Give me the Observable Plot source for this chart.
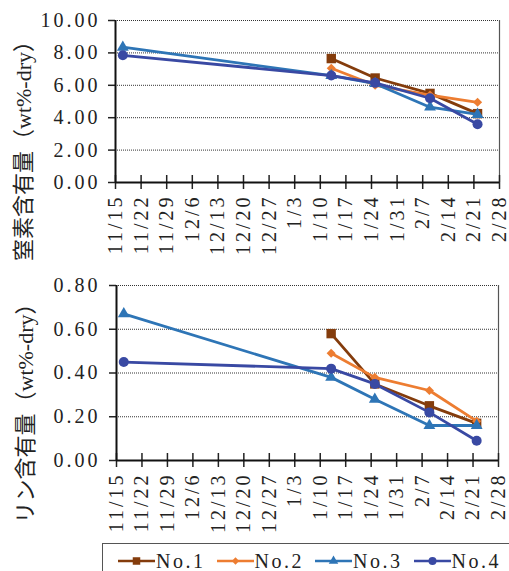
<!DOCTYPE html>
<html>
<head>
<meta charset="utf-8">
<script src="https://cdn.jsdelivr.net/npm/d3@7"></script>
<script src="https://cdn.jsdelivr.net/npm/@observablehq/plot@0.6"></script>
<style>
  body { margin: 0; background: #fff; }
  #wrap { position: relative; width: 509px; height: 571px; overflow: hidden; background: #fff;
          font-family: "Liberation Serif", "Noto Sans CJK JP", serif; color: #222; }
  #top { position: absolute; left: 0; top: 0; }
  #bottom { position: absolute; left: 0; top: 270px; }
  #legend { position: absolute; left: 102px; top: 543px; width: 440px; height: 40px;
            border: 1px solid #555; box-sizing: border-box; background: #fff; }
  #legend .item { position: absolute; top: 6px; display: flex; align-items: center; height: 22px;
                  font-size: 20px; letter-spacing: 2.5px; }
  svg text.spaced { letter-spacing: 3px; }
</style>
</head>
<body>
<div id="wrap">
  <div id="top"></div>
  <div id="bottom"></div>
  <div id="legend"></div>
</div>
<script>
// Sample series
const series = ["No.1", "No.2", "No.3", "No.4"];
const seriesColors = ["#843C0C", "#ED7D31", "#2E75B6", "#3949A3"];
const seriesSymbols = ["square", "diamond2", "triangle", "circle"];
const symbolRadius = [5.3, 4.1, 4.4, 5];

// Sampling dates
const sampleDates = ["2018-11-17", "2019-01-13", "2019-01-25", "2019-02-09", "2019-02-22"];

// Nitrogen content (wt%-dry), one list per sample; null = not sampled
const nitrogenNo1 = [null, 7.65, 6.45, 5.50, 4.25];
const nitrogenNo2 = [null, 7.05, 6.00, 5.40, 4.95];
const nitrogenNo3 = [8.35, 6.60, 6.10, 4.65, 4.20];
const nitrogenNo4 = [7.85, 6.60, 6.15, 5.20, 3.60];

// Phosphorus content (wt%-dry)
const phosphorusNo1 = [null, 0.58, 0.35, 0.25, 0.17];
const phosphorusNo2 = [null, 0.49, 0.38, 0.32, 0.18];
const phosphorusNo3 = [0.67, 0.38, 0.28, 0.16, 0.16];
const phosphorusNo4 = [0.45, 0.42, 0.35, 0.22, 0.09];

// Axis ticks
const weekTickLabels = ["11/15", "11/22", "11/29", "12/6", "12/13", "12/20", "12/27",
  "1/3", "1/10", "1/17", "1/24", "1/31", "2/7", "2/14", "2/21", "2/28"];
const nitrogenTicks = [0, 2, 4, 6, 8, 10];
const phosphorusTicks = [0, 0.2, 0.4, 0.6, 0.8];

const nitrogenTitle = "窒素含有量（wt%-dry）";
const phosphorusTitle = "リン含有量（wt%-dry）";

const weekTicks = weekTickLabels.map(s => {
  const [m, d] = s.split("/").map(Number);
  return new Date(Date.UTC(m >= 11 ? 2018 : 2019, m - 1, d));
});
const fmtMD = d => `${d.getUTCMonth() + 1}/${d.getUTCDate()}`;

function toRows(lists) {
  const rows = [];
  lists.forEach((vals, i) => vals.forEach((v, j) => {
    if (v != null) rows.push({series: series[i], date: new Date(sampleDates[j] + "T00:00:00Z"), value: v});
  }));
  return rows;
}

function chart({rows, yTicks, title, height, marginTop, marginBottom, marginLeft, marginRight, titleDx, titleDy, tickPadding}) {
  const plotH = height - marginTop - marginBottom;
  const seriesMarks = series.flatMap((s, i) => {
    const data = rows.filter(r => r.series === s);
    return [
      Plot.line(data, {x: "date", y: "value", stroke: seriesColors[i], strokeWidth: 2.8}),
      Plot.dot(data, {x: "date", y: "value", symbol: () => seriesSymbols[i], fill: seriesColors[i],
                      stroke: "none", r: symbolRadius[i]})
    ];
  });
  const svg = Plot.plot({
    width: 509,
    height,
    marginTop, marginBottom, marginLeft, marginRight,
    style: {fontFamily: '"Liberation Serif", "Noto Sans CJK JP", serif', fontSize: "20px",
            color: "#222", background: "white", overflow: "visible"},
    x: {type: "utc", domain: [weekTicks[0], weekTicks[weekTicks.length - 1]], label: null},
    y: {domain: [yTicks[0], yTicks[yTicks.length - 1]], label: null},
    symbol: {type: "identity"},
    marks: [
      Plot.gridY(yTicks.filter(v => v > 0), {stroke: "#333", strokeOpacity: 1, strokeWidth: 1, strokeDasharray: "1,1"}),
      Plot.ruleX([weekTicks[weekTicks.length - 1]], {stroke: "#555", strokeWidth: 1.2}),
      Plot.axisY({ticks: yTicks, tickSize: 7, tickPadding, tickFormat: d3.format(".2f"), strokeWidth: 1.5}),
      Plot.axisX({ticks: weekTicks, tickSize: 7, tickPadding: 5, tickRotate: -90, tickFormat: fmtMD, strokeWidth: 1.5}),
      Plot.tickX(weekTicks, {x: d => d, insetTop: plotH - 7, stroke: "#222", strokeWidth: 1.5}),
      Plot.ruleX([weekTicks[0]], {stroke: "#111", strokeWidth: 2}),
      Plot.ruleY([yTicks[0]], {stroke: "#111", strokeWidth: 2}),
      ...seriesMarks,
      Plot.text([title], {text: d => d, frameAnchor: "left", textAnchor: "middle", lineAnchor: "middle",
                          rotate: -90, dx: titleDx, dy: titleDy, fontSize: 22, fill: "#222"})
    ]
  });
  // Wider, Mincho-like spacing for the tick labels
  d3.select(svg).selectAll("text").filter(function () { return this.textContent !== title; })
    .classed("spaced", true)
    .attr("letter-spacing", "3px")
    .style("letter-spacing", "3px");
  return svg;
}

document.getElementById("top").append(chart({
  rows: toRows([nitrogenNo1, nitrogenNo2, nitrogenNo3, nitrogenNo4]),
  yTicks: nitrogenTicks,
  title: nitrogenTitle,
  height: 270, marginTop: 20, marginBottom: 88, marginLeft: 115, marginRight: 10,
  titleDx: -92, titleDy: 44, tickPadding: 8
}));

document.getElementById("bottom").append(chart({
  rows: toRows([phosphorusNo1, phosphorusNo2, phosphorusNo3, phosphorusNo4]),
  yTicks: phosphorusTicks,
  title: phosphorusTitle,
  height: 270, marginTop: 15, marginBottom: 80, marginLeft: 116, marginRight: 11,
  titleDx: -91, titleDy: 35, tickPadding: 9
}));

// Legend: line swatch with marker, then the series name
const legend = d3.select("#legend");
const d3Symbols = {square: d3.symbolSquare, diamond2: d3.symbolDiamond2, triangle: d3.symbolTriangle, circle: d3.symbolCircle};
series.forEach((s, i) => {
  const item = legend.append("div").attr("class", "item").style("left", `${15 + i * 98.5}px`);
  const svg = item.append("svg").attr("width", 37).attr("height", 20).style("margin-right", "1px");
  svg.append("line").attr("x1", 0).attr("x2", 37).attr("y1", 10).attr("y2", 10)
    .attr("stroke", seriesColors[i]).attr("stroke-width", 2.5);
  const r = symbolRadius[i] * 0.8;
  svg.append("path").attr("transform", "translate(18.5,10)")
    .attr("d", d3.symbol(d3Symbols[seriesSymbols[i]], Math.PI * r * r)())
    .attr("fill", seriesColors[i]);
  item.append("span").text(s);
});
</script>
</body>
</html>
